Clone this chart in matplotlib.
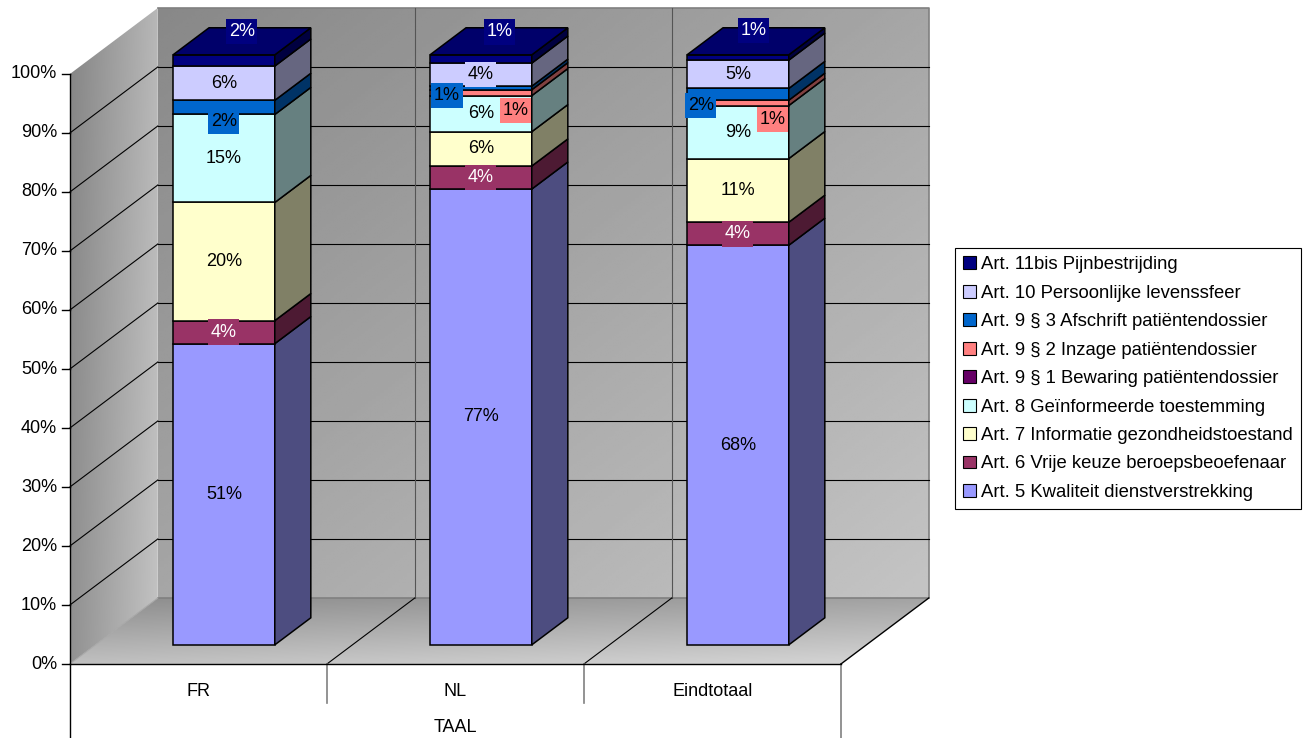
import matplotlib
matplotlib.use("Agg")
import matplotlib.pyplot as plt
import numpy as np
from matplotlib.patches import Polygon, Patch
from matplotlib.path import Path
from matplotlib.colors import to_rgb

plt.rcParams['font.family'] = ['Liberation Sans', 'DejaVu Sans']

categories = ['FR', 'NL', 'Eindtotaal']
axis_title = 'TAAL'
series = [
    'Art. 5 Kwaliteit dienstverstrekking',
    'Art. 6 Vrije keuze beroepsbeoefenaar',
    'Art. 7 Informatie gezondheidstoestand',
    'Art. 8 Geïnformeerde toestemming',
    'Art. 9 § 1 Bewaring patiëntendossier',
    'Art. 9 § 2 Inzage patiëntendossier',
    'Art. 9 § 3 Afschrift patiëntendossier',
    'Art. 10 Persoonlijke levenssfeer',
    'Art. 11bis Pijnbestrijding',
]
# aandeel per artikel (%), per taalgroep
fr = [51.0, 3.9, 20.0, 14.9, 0.0, 0.0, 2.4, 5.8, 1.9]
nl = [77.1, 3.9, 5.8, 6.1, 0.0, 1.0, 0.6, 3.9, 1.4]
eind = [67.8, 3.9, 10.8, 9.0, 0.0, 0.9, 2.0, 4.8, 0.9]
yticks = [0, 10, 20, 30, 40, 50, 60, 70, 80, 90, 100]

colors = ['#9999FF', '#993366', '#FFFFCC', '#CCFFFF', '#660066',
          '#FF8080', '#0066CC', '#CCCCFF', '#000080']
text_colors = ['black', 'white', 'black', 'black', 'white',
               'black', 'black', 'black', 'white']

# schuif van de labels die anders over elkaar vallen (bar, reeks) -> (dx, dy)
nudges = {
    (0, 8): (0.07, 4.9), (1, 8): (0.074, 4.6), (2, 8): (0.062, 4.6),
    (0, 6): (0.0, -2.4),
    (1, 6): (-0.132, -1.3), (1, 5): (0.136, -3.0),
    (2, 6): (-0.144, -1.9), (2, 5): (0.136, -2.8),
}

# 3D-look: volledige diepte van de vloer en positie/breedte van de staven
DX, DY = 0.342, 11.19
HALF = 0.198
F0, F1 = 0.29, 0.70


def darker(c, f):
    r, g, b = to_rgb(c)
    return (r * f, g * f, b * f)


def label_box(x0, y0, width, height, mutation_size):
    # rechthoekig kader, iets hoger dan breed
    px, py = 0.14 * mutation_size, 0.24 * mutation_size
    return Path([(x0 - px, y0 - py), (x0 + width + px, y0 - py),
                 (x0 + width + px, y0 + height + py), (x0 - px, y0 + height + py),
                 (x0 - px, y0 - py)], closed=True)


fig = plt.figure(figsize=(13.03, 7.38), dpi=100)
ax = fig.add_axes([0, 0, 1, 1])
XLIM = (-0.772, 4.298)
YLIM = (-12.54, 112.54)


def gradient_fill(pts, func, z):
    poly = Polygon(pts, closed=True, fc='none', ec='none')
    ax.add_patch(poly)
    xs = [p[0] for p in pts]
    ys = [p[1] for p in pts]
    u, w = np.meshgrid(np.linspace(0, 1, 200), np.linspace(0, 1, 200))
    img = func(u, w)
    im = ax.imshow(img, extent=(min(xs), max(xs), min(ys), max(ys)),
                   origin='upper', cmap='gray', vmin=0, vmax=255,
                   aspect='auto', interpolation='bilinear', zorder=z)
    im.set_clip_path(poly)


x_l, x_r = -0.5, len(categories) - 0.5

# achterwand, zijwand, vloer
gradient_fill([(x_l + DX, DY), (x_r + DX, DY), (x_r + DX, 100 + DY), (x_l + DX, 100 + DY)],
              lambda u, w: 136 + 30 * u + 30 * w, 0)
gradient_fill([(x_l, 0), (x_l, 100), (x_l + DX, 100 + DY), (x_l + DX, DY)],
              lambda u, w: 133 + 50 * u + 12 * w, 0)
gradient_fill([(x_l, 0), (x_r, 0), (x_r + DX, DY), (x_l + DX, DY)],
              lambda u, w: 140 + 22 * u + 52 * w, 0)

ax.plot([x_l + DX, x_r + DX, x_r + DX, x_l + DX], [100 + DY, 100 + DY, DY, DY],
        color='#808080', lw=1.2, zorder=1)
ax.plot([x_l, x_l + DX], [0, DY], color='#a8a8a8', lw=0.8, zorder=1)

# rasterlijnen
for t in yticks[1:-1]:
    ax.plot([x_l, x_l + DX], [t, t + DY], color='black', lw=0.8, zorder=1)
    ax.plot([x_l + DX, x_r + DX], [t + DY, t + DY], color='black', lw=0.8, zorder=1)
for b in np.arange(x_l + 1, x_r):
    ax.plot([b + DX, b + DX], [DY, 100 + DY], color='#555555', lw=0.8, zorder=1)
    ax.plot([b, b + DX], [0, DY], color='black', lw=0.8, zorder=1)
    ax.plot([b, b], [0, -6.6], color='#808080', lw=1.2, zorder=1)

# assen
ax.plot([x_l, x_l], [100, YLIM[0]], color='black', lw=1.0, zorder=2)
ax.plot([x_l, x_r], [0, 0], color='black', lw=1.0, zorder=2)
ax.plot([x_r, x_r + DX], [0, DY], color='black', lw=1.0, zorder=2)
ax.plot([x_r, x_r], [0, YLIM[0]], color='#808080', lw=1.2, zorder=1)
for t in yticks:
    ax.plot([x_l - 0.031, x_l], [t, t], color='black', lw=1.0)
    ax.text(x_l - 0.05, t, f'{t}%', ha='right', va='center', fontsize=13)
for i, cat in enumerate(categories):
    ax.text(i, -4.6, cat, ha='center', va='center', fontsize=13)
ax.text(1, -10.7, axis_title, ha='center', va='center', fontsize=13)

# gestapelde 3D-staven
bdx, bdy = (F1 - F0) * DX, (F1 - F0) * DY
for i, vals in enumerate([fr, nl, eind]):
    total = sum(vals)
    pct = [v / total * 100 for v in vals]
    x0 = i - HALF + F0 * DX
    x1 = i + HALF + F0 * DX
    yo = F0 * DY
    bottom = 0.0
    top_idx = max(k for k, p in enumerate(pct) if p > 0)
    for s, p in enumerate(pct):
        if p <= 0:
            continue
        yb, yt = bottom + yo, bottom + p + yo
        ax.add_patch(Polygon([(x0, yb), (x1, yb), (x1, yt), (x0, yt)],
                             fc=colors[s], ec='black', lw=1.1, zorder=3))
        ax.add_patch(Polygon([(x1, yb), (x1 + bdx, yb + bdy), (x1 + bdx, yt + bdy), (x1, yt)],
                             fc=darker(colors[s], 0.5), ec='black', lw=1.1, zorder=3))
        if s == top_idx:
            ax.add_patch(Polygon([(x0, yt), (x1, yt), (x1 + bdx, yt + bdy), (x0 + bdx, yt + bdy)],
                                 fc=darker(colors[s], 0.83), ec='black', lw=1.1, zorder=3))
        ndx, ndy = nudges.get((i, s), (0.0, 0.0))
        ax.text(i + F0 * DX + ndx, bottom + p / 2 + yo + ndy, f'{round(p)}%',
                ha='center', va='center', fontsize=13, color=text_colors[s],
                bbox=dict(boxstyle=label_box, fc=colors[s], ec='none'),
                zorder=5)
        bottom += p

ax.set_xlim(*XLIM)
ax.set_ylim(*YLIM)
ax.axis('off')

handles = [Patch(fc=c, ec='black', lw=0.8) for c in colors][::-1]
leg = fig.legend(handles, series[::-1], loc='upper left',
                 bbox_to_anchor=(955 / 1303, 1 - 248 / 738), fontsize=13.3,
                 fancybox=False, edgecolor='black', framealpha=1,
                 handlelength=0.7, handleheight=0.7, handletextpad=0.25,
                 labelspacing=0.62, borderpad=0.45, borderaxespad=0)
leg.get_frame().set_linewidth(0.8)

fig.savefig('out.png', dpi=100)
